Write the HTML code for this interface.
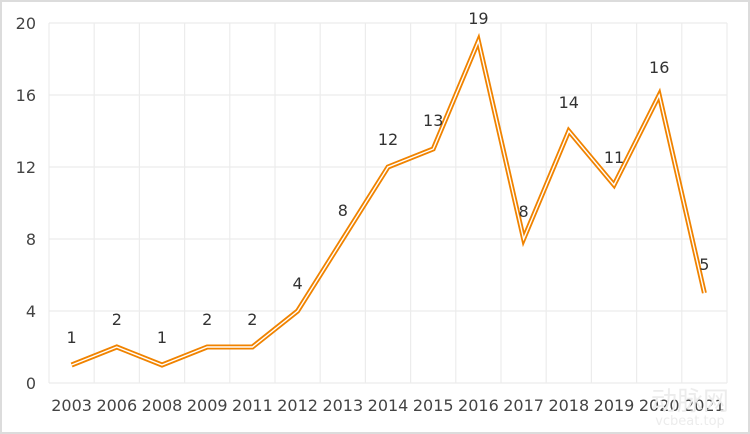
<!DOCTYPE html>
<html><head><meta charset="utf-8"><style>
html,body{margin:0;padding:0;background:#fff;}
svg{display:block;font-family:"DejaVu Sans","Liberation Sans","Noto Sans CJK SC",sans-serif;}
</style></head><body>
<svg width="750" height="434" viewBox="0 0 750 434" xmlns="http://www.w3.org/2000/svg">
<rect x="1" y="1" width="748" height="432" fill="#fff" stroke="#dcdcdc" stroke-width="2"/>
<g stroke="#ececec" stroke-width="1.2">
<line x1="49" y1="23" x2="727" y2="23"/><line x1="49" y1="95" x2="727" y2="95"/>
<line x1="49" y1="167" x2="727" y2="167"/><line x1="49" y1="239" x2="727" y2="239"/>
<line x1="49" y1="311" x2="727" y2="311"/><line x1="49" y1="383" x2="727" y2="383"/>
<line x1="49" y1="23" x2="49" y2="383"/><line x1="94.2" y1="23" x2="94.2" y2="383"/>
<line x1="139.4" y1="23" x2="139.4" y2="383"/><line x1="184.6" y1="23" x2="184.6" y2="383"/>
<line x1="229.8" y1="23" x2="229.8" y2="383"/><line x1="275" y1="23" x2="275" y2="383"/>
<line x1="320.2" y1="23" x2="320.2" y2="383"/><line x1="365.4" y1="23" x2="365.4" y2="383"/>
<line x1="410.6" y1="23" x2="410.6" y2="383"/><line x1="455.8" y1="23" x2="455.8" y2="383"/>
<line x1="501" y1="23" x2="501" y2="383"/><line x1="546.2" y1="23" x2="546.2" y2="383"/>
<line x1="591.4" y1="23" x2="591.4" y2="383"/><line x1="636.6" y1="23" x2="636.6" y2="383"/>
<line x1="681.8" y1="23" x2="681.8" y2="383"/><line x1="727" y1="23" x2="727" y2="383"/>
</g>
<g fill="#444" font-size="16" text-anchor="end">
<text x="36" y="29">20</text><text x="36" y="101">16</text><text x="36" y="173">12</text>
<text x="36" y="245">8</text><text x="36" y="317">4</text><text x="36" y="389">0</text>
</g>
<g fill="#444" font-size="16" text-anchor="middle">
<text x="71.6" y="411">2003</text><text x="116.8" y="411">2006</text><text x="162" y="411">2008</text>
<text x="207.2" y="411">2009</text><text x="252.4" y="411">2011</text><text x="297.6" y="411">2012</text>
<text x="342.8" y="411">2013</text><text x="388" y="411">2014</text><text x="433.2" y="411">2015</text>
<text x="478.4" y="411">2016</text><text x="523.6" y="411">2017</text><text x="568.8" y="411">2018</text>
<text x="614" y="411">2019</text><text x="659.2" y="411">2020</text><text x="704.4" y="411">2021</text>
</g>
<text x="690" y="410" font-size="26" fill="#ececec" text-anchor="middle">动脉网</text>
<text x="690" y="425" font-size="13" fill="#ececec" text-anchor="middle">vcbeat.top</text>
<g fill="none" stroke-linejoin="miter">
<polyline stroke="#f08300" stroke-width="5" points="71.6,365 116.8,347 162,365 207.2,347 252.4,347 297.6,311 342.8,239 388,167 433.2,149 478.4,41 523.6,239 568.8,131 614,185 659.2,95 704.4,293"/>
<polyline stroke="#fff" stroke-width="1.4" points="71.6,365 116.8,347 162,365 207.2,347 252.4,347 297.6,311 342.8,239 388,167 433.2,149 478.4,41 523.6,239 568.8,131 614,185 659.2,95 704.4,293"/>
</g>
<g fill="#333" font-size="16" text-anchor="middle">
<text x="71.6" y="343">1</text><text x="116.8" y="325">2</text><text x="162" y="343">1</text>
<text x="207.2" y="325">2</text><text x="252.4" y="325">2</text><text x="297.6" y="289">4</text>
<text x="342.8" y="216">8</text><text x="388" y="145">12</text><text x="433.2" y="126">13</text>
<text x="478.4" y="24">19</text><text x="523.6" y="217">8</text><text x="568.8" y="108">14</text>
<text x="614" y="163">11</text><text x="659.2" y="73">16</text><text x="704.4" y="270">5</text>
</g>
</svg>
</body></html>
